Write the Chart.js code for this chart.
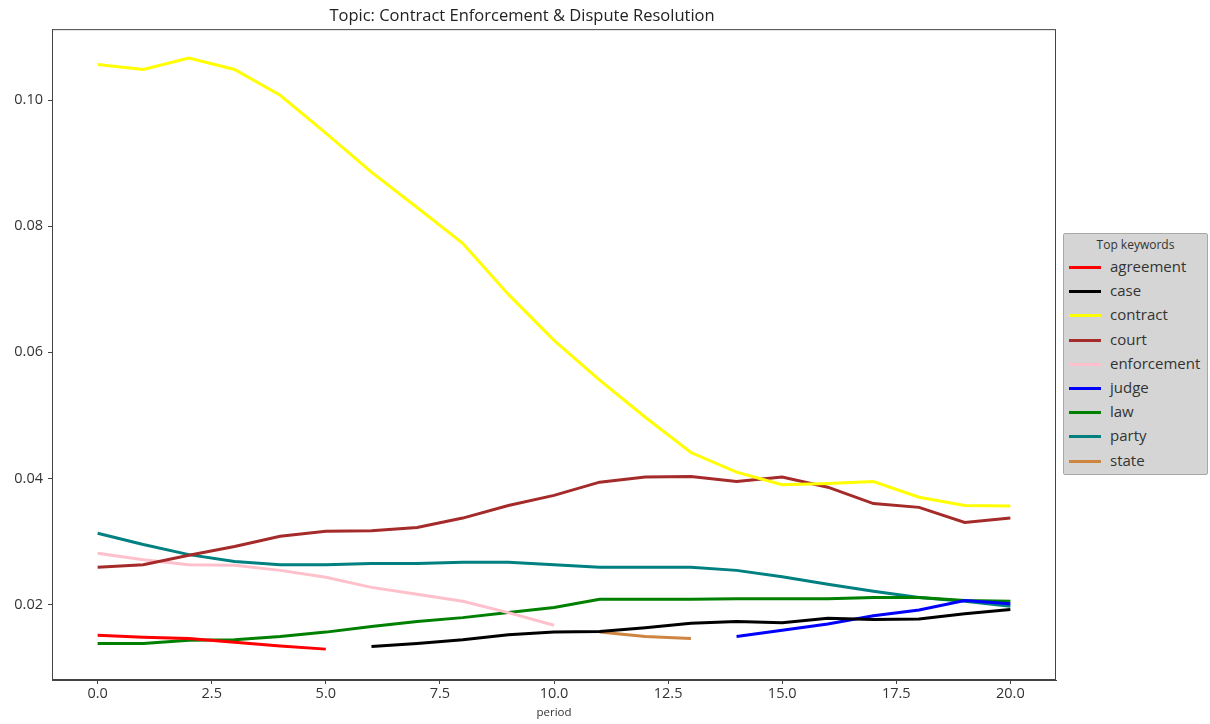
<!DOCTYPE html>
<html>
<head>
<meta charset="utf-8">
<script src="https://cdn.jsdelivr.net/npm/chart.js@4"></script>
<style>
  body { margin: 0; background: #fff; }
  #wrap { position: relative; width: 1210px; height: 724px; }
  #legend {
    position: absolute; left: 1063px; top: 233px; width: 143px; height: 240px;
    background: #d5d5d5; border: 1px solid #a8a8a8; border-radius: 2px;
    font-family: 'Open Sans', sans-serif; color: #333;
  }
  #legend .ttl { text-align: center; font-size: 12px; margin-top: 3px; height: 20px; line-height: 16px; }
  #legend .row { position: relative; height: 24.2px; font-size: 15px; line-height: 20px; }
  #legend .sw { position: absolute; left: 5px; top: 9px; width: 32px; height: 3px; }
  #legend .lb { position: absolute; left: 46px; top: -1px; }
</style>
</head>
<body>
<div id="wrap">
  <canvas id="topicChart" width="1210" height="724"></canvas>
  <div id="legend"><div class="ttl">Top keywords</div></div>
</div>
<script>
// periods 0..20
const periods = [0,1,2,3,4,5,6,7,8,9,10,11,12,13,14,15,16,17,18,19,20];
const xTicks = [0, 2.5, 5, 7.5, 10, 12.5, 15, 17.5, 20];
const yTicks = [0.02, 0.04, 0.06, 0.08, 0.10];

const agreement   = [0.0151,0.0148,0.0146,0.0140,0.0134,0.0129,null,null,null,null,null,null,null,null,null,null,null,null,null,null,null];
const caseVals    = [null,null,null,null,null,null,0.0133,0.0138,0.0144,0.0152,0.0156,0.0157,0.0163,0.0170,0.0173,0.0171,0.0178,0.0176,0.0177,0.0185,0.0192];
const contract    = [0.1057,0.1049,0.1067,0.1049,0.1008,0.0948,0.0886,0.0830,0.0773,0.0692,0.0619,0.0556,0.0497,0.0441,0.0410,0.0390,0.0392,0.0395,0.0370,0.0357,0.0356];
const court       = [0.0259,0.0263,0.0278,0.0292,0.0308,0.0316,0.0317,0.0322,0.0337,0.0357,0.0373,0.0394,0.0402,0.0403,0.0395,0.0402,0.0386,0.0360,0.0354,0.0330,0.0337];
const enforcement = [0.0281,0.0271,0.0263,0.0262,0.0254,0.0243,0.0227,0.0216,0.0205,0.0187,0.0167,null,null,null,null,null,null,null,null,null,null];
const judge       = [null,null,null,null,null,null,null,null,null,null,null,null,null,null,0.0149,0.0159,0.0169,0.0182,0.0191,0.0206,0.0201];
const law         = [0.0138,0.0138,0.0143,0.0144,0.0149,0.0156,0.0165,0.0173,0.0179,0.0187,0.0195,0.0208,0.0208,0.0208,0.0209,0.0209,0.0209,0.0211,0.0211,0.0206,0.0205];
const party       = [0.0313,0.0295,0.0279,0.0268,0.0263,0.0263,0.0265,0.0265,0.0267,0.0267,0.0263,0.0259,0.0259,0.0259,0.0254,0.0244,0.0232,0.0221,0.0211,0.0205,0.0197];
const state       = [null,null,null,null,null,null,null,null,null,null,null,0.0156,0.0149,0.0146,null,null,null,null,null,null,null];

const keywords = ['agreement','case','contract','court','enforcement','judge','law','party','state'];
const seriesData = [agreement, caseVals, contract, court, enforcement, judge, law, party, state];
const colors = ['#ff0000','#000000','#ffff00','#a52a2a','#ffc0cb','#0000ff','#008000','#008080','#cd853f'];

const FONT = "'Open Sans', sans-serif";

// matplotlib-like box around the axes, and nudge the title a bit left
const frame = {
    id: 'frame',
    afterLayout(chart) {
        if (chart.titleBlock) chart.titleBlock.right -= 12;
    },
    afterDraw(chart) {
        const { ctx, chartArea: a } = chart;
        ctx.save();
        ctx.strokeStyle = '#444';
        ctx.lineWidth = 1;
        ctx.strokeRect(a.left + 0.5, a.top + 0.5, a.right - a.left - 1, a.bottom - a.top - 1);
        ctx.restore();
    }
};

const ctx = document.getElementById('topicChart').getContext('2d');
new Chart(ctx, {
    type: 'line',
    data: {
        datasets: keywords.map((k, i) => ({
            label: k,
            data: periods.map((p, j) => ({ x: p, y: seriesData[i][j] })),
            borderColor: colors[i],
            backgroundColor: colors[i],
            borderWidth: 3,
            pointRadius: 0,
            tension: 0,
            spanGaps: false
        }))
    },
    options: {
        responsive: false,
        animation: false,
        layout: { padding: { left: 0, right: 154, top: 0, bottom: 0 } },
        plugins: {
            legend: { display: false },
            tooltip: { enabled: false },
            title: {
                display: true,
                text: 'Topic: Contract Enforcement & Dispute Resolution',
                color: '#222',
                font: { family: FONT, size: 16.5, weight: 'normal', lineHeight: 1.1 },
                padding: { top: 7, bottom: 4 }
            }
        },
        scales: {
            x: {
                type: 'linear',
                min: -1, max: 21,
                afterBuildTicks: s => { s.ticks = xTicks.map(v => ({ value: v })); },
                afterFit: s => { s.height = 44; },
                grid: { drawOnChartArea: false, drawTicks: true, tickLength: 4, color: '#444' },
                border: { display: true, color: '#444' },
                ticks: {
                    color: '#333', padding: 1,
                    font: { family: FONT, size: 14.5 },
                    callback: v => v.toFixed(1)
                },
                title: {
                    display: true, text: 'period', color: '#333',
                    font: { family: FONT, size: 11.5 },
                    padding: { top: 0, bottom: 4 }
                }
            },
            y: {
                min: 0.008, max: 0.1113,
                afterBuildTicks: s => { s.ticks = yTicks.map(v => ({ value: v })); },
                afterFit: s => { s.width = 52; },
                grid: { drawOnChartArea: false, drawTicks: true, tickLength: 4, color: '#444' },
                border: { display: true, color: '#444' },
                ticks: {
                    color: '#333', padding: 5,
                    font: { family: FONT, size: 14.5 },
                    callback: v => v.toFixed(2)
                }
            }
        }
    },
    plugins: [frame]
});

// legend box
const legend = document.getElementById('legend');
keywords.forEach((k, i) => {
    const row = document.createElement('div');
    row.className = 'row';
    row.innerHTML = '<span class="sw" style="background:' + colors[i] + '"></span><span class="lb">' + k + '</span>';
    legend.appendChild(row);
});
</script>
</body>
</html>
